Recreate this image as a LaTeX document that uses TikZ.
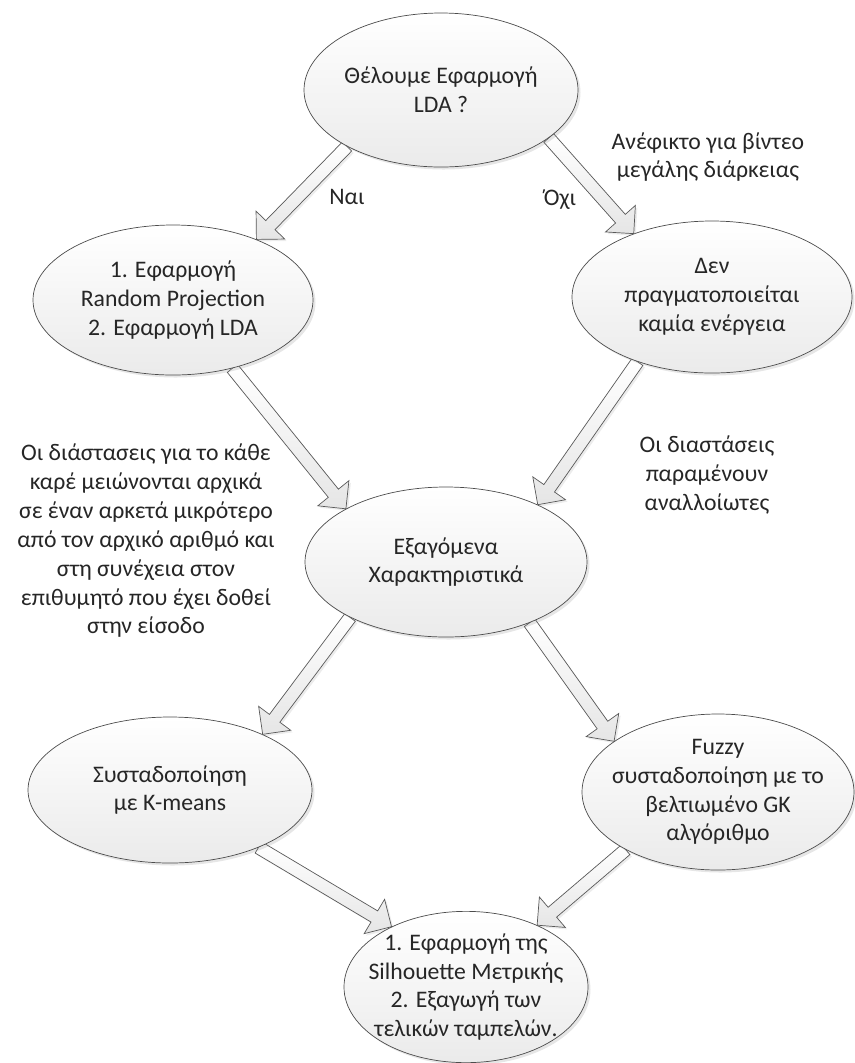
\documentclass[tikz,border=0pt]{standalone}
\usepackage{fontspec}
\setmainfont{Carlito}
\usetikzlibrary{calc,shapes.geometric,shadows,backgrounds}

\tikzset{
  stage/.style={ellipse, draw=black!70, top color=white, bottom color=black!8,
    drop shadow={shadow xshift=0.05cm, shadow yshift=-0.05cm, opacity=0.2},
    inner xsep=-0.4cm, inner ysep=0pt, align=center},
  fatarrow/.style={draw=black!65, top color=white, bottom color=black!10, line join=miter,
    drop shadow={shadow xshift=0.04cm, shadow yshift=-0.04cm, opacity=0.15}},
  note/.style={align=center}
}

% hollow block arrow from #1 to #2
\newcommand{\blockarrow}[2]{%
  \coordinate (ba-s) at (#1);
  \coordinate (ba-e) at (#2);
  \coordinate (ba-h) at ($(ba-e)!0.4cm!(ba-s)$);
  \path[fatarrow] ($(ba-s)!0.13cm!90:(ba-e)$) -- ($(ba-h)!0.13cm!90:(ba-e)$)
    -- ($(ba-h)!0.4cm!90:(ba-e)$) -- (ba-e) -- ($(ba-h)!0.4cm!-90:(ba-e)$)
    -- ($(ba-h)!0.13cm!-90:(ba-e)$) -- ($(ba-s)!0.13cm!-90:(ba-e)$) -- cycle;
}

\begin{document}
\begin{tikzpicture}[font=\fontsize{13.5}{16.4}\selectfont, text=black!85]
  \useasboundingbox (0,0) rectangle (17.1,-21.26);

  % Stages
  \node[stage, minimum width=5.48cm, minimum height=3.08cm] (lda) at (8.82,-1.80) {Θέλουμε Εφαρμογή\\LDA ?};
  \node[stage, minimum width=5.6cm, minimum height=3.0cm] (yes) at (3.46,-6.00) {1. Εφαρμογή\\Random Projection\\2. Εφαρμογή LDA};
  \node[stage, minimum width=5.6cm, minimum height=3.04cm] (no) at (14.24,-5.94) {Δεν\\πραγματοποιείται\\καμία ενέργεια};
  \node[stage, minimum width=5.64cm, minimum height=3.0cm] (feat) at (8.92,-11.24) {Εξαγόμενα\\Χαρακτηριστικά};
  \node[stage, minimum width=5.68cm, minimum height=2.92cm] (kmeans) at (3.40,-15.80) {Συσταδοποίηση\\με K-means};
  \node[stage, minimum width=5.44cm, minimum height=3.12cm] (fuzzy) at (14.36,-15.84) {Fuzzy\\συσταδοποίηση με το\\βελτιωμένο GK\\αλγόριθμο};
  \node[stage, minimum width=4.88cm, minimum height=3.0cm] (final) at (9.32,-19.74) {1. Εφαρμογή της\\Silhouette Μετρικής\\2. Εξαγωγή των\\τελικών ταμπελών.};

  % Side notes
  \node (yeslbl) at (6.94,-3.94) {Ναι};
  \node (nolbl) at (11.2,-4.0) {Όχι};
  \node[note] (infeasible) at (14.16,-3.14) {Ανέφικτο για βίντεο\\μεγάλης διάρκειας};
  \node[note] (reduce) at (2.92,-10.82) {Οι διάστασεις για το κάθε\\καρέ μειώνονται αρχικά\\σε έναν αρκετά μικρότερο\\από τον αρχικό αριθμό και\\στη συνέχεια στον\\επιθυμητό που έχει δοθεί\\στην είσοδο};
  \node[note] (same) at (14.14,-9.5) {Οι διαστάσεις\\παραμένουν\\αναλλοίωτες};

  % Arrows
  \begin{scope}[on background layer]
    \blockarrow{lda.211}{yes.36}
    \blockarrow{lda.336}{no.141}
    \blockarrow{yes.311}{feat.152}
    \blockarrow{no.221}{feat.32}
    \blockarrow{feat.210}{kmeans.31}
    \blockarrow{feat.324}{fuzzy.154}
    \blockarrow{kmeans.327}{final.141}
    \blockarrow{fuzzy.212}{final.41}
  \end{scope}
\end{tikzpicture}
\end{document}
